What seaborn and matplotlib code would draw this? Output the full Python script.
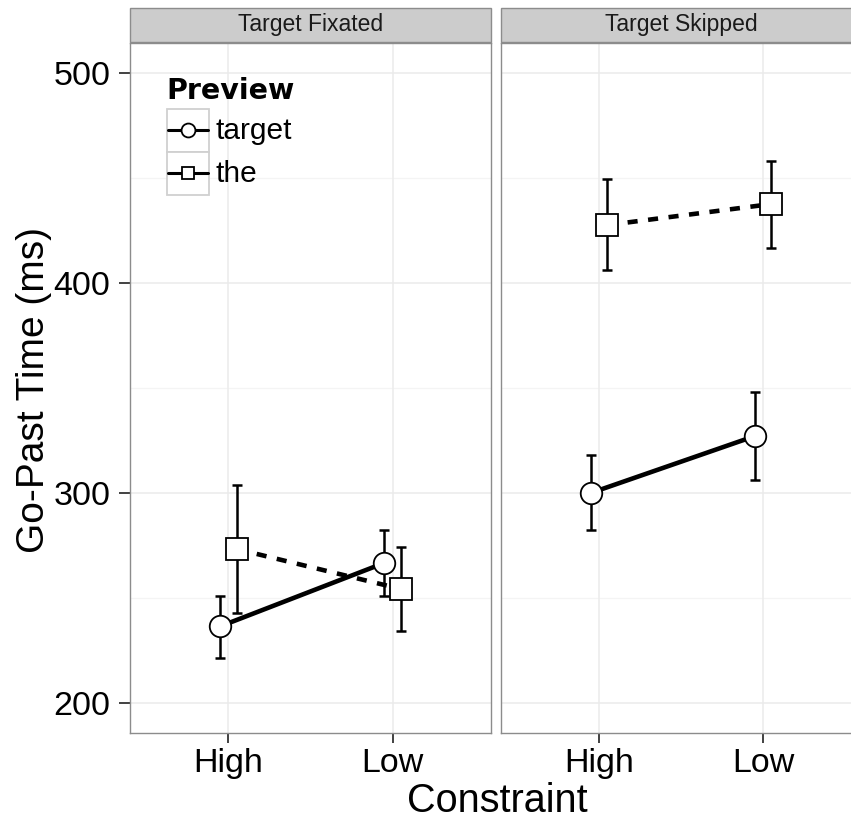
import matplotlib
matplotlib.use("Agg")
import matplotlib.pyplot as plt
from matplotlib.patches import Rectangle
from matplotlib.lines import Line2D
import seaborn as sns
import pandas as pd
import numpy as np

# ---- data ----
panels = ["Target Fixated", "Target Skipped"]
constraints = ["High", "Low"]
previews = ["target", "the"]

fix_target_mean = [236.5, 266.7]
fix_target_lo = [221.5, 251.0]
fix_target_hi = [251.0, 282.4]
fix_the_mean = [273.3, 254.3]
fix_the_lo = [243.0, 234.3]
fix_the_hi = [303.8, 274.3]

skip_target_mean = [300.0, 327.1]
skip_target_lo = [282.4, 306.2]
skip_target_hi = [318.1, 348.1]
skip_the_mean = [427.6, 437.6]
skip_the_lo = [406.2, 416.7]
skip_the_hi = [449.5, 458.1]

y_ticks = [200, 300, 400, 500]

rows = []
series = {
    ("Target Fixated", "target"): (fix_target_mean, fix_target_lo, fix_target_hi),
    ("Target Fixated", "the"): (fix_the_mean, fix_the_lo, fix_the_hi),
    ("Target Skipped", "target"): (skip_target_mean, skip_target_lo, skip_target_hi),
    ("Target Skipped", "the"): (skip_the_mean, skip_the_lo, skip_the_hi),
}
dodge = {"target": -0.05, "the": 0.05}
for (pan, prev), (m, lo, hi) in series.items():
    for i, c in enumerate(constraints):
        rows.append(dict(panel=pan, Preview=prev, Constraint=c,
                         xpos=i + dodge[prev], mean=m[i], lo=lo[i], hi=hi[i]))
df = pd.DataFrame(rows)

# ---- style ----
sns.set_theme(style="white")
plt.rcParams["font.family"] = ["Liberation Sans", "DejaVu Sans"]
plt.rcParams["text.color"] = "black"

W, H = 851, 821
fig = plt.figure(figsize=(W / 100, H / 100), dpi=100)

def px_rect(l, t, r, b):
    return [l / W, 1 - b / H, (r - l) / W, (b - t) / H]

ax1 = fig.add_axes(px_rect(130, 43, 491, 733))
ax2 = fig.add_axes(px_rect(500.5, 43, 861.5, 733))

border = "#8C8C8C"
for ax, pan in zip([ax1, ax2], panels):
    d = df[df.panel == pan]
    ax.set_facecolor("white")
    # grid
    for yv in [250, 350, 450]:
        ax.axhline(yv, color="#F4F4F4", lw=0.9, zorder=0)
    for yv in y_ticks:
        ax.axhline(yv, color="#EBEBEB", lw=1.1, zorder=0)
    for xv in range(len(constraints)):
        ax.axvline(xv, color="#EBEBEB", lw=1.1, zorder=0)
    # error bars
    ax.errorbar(d["xpos"], d["mean"], yerr=[d["mean"] - d["lo"], d["hi"] - d["mean"]],
                fmt="none", ecolor="black", elinewidth=1.8, capsize=3.5,
                capthick=1.8, zorder=2)
    sns.lineplot(data=d, x="xpos", y="mean", style="Preview",
                 style_order=previews,
                 dashes={"target": "", "the": (2.2, 2.3)},
                 markers={"target": "o", "the": "s"},
                 color="black", lw=3.3, ax=ax, legend=False, zorder=3,
                 markerfacecolor="white", markeredgecolor="black",
                 markeredgewidth=1.3, markersize=15.5)
    ax.set_xlim(-0.6, 1.6)
    ax.set_ylim(185.7, 514.3)
    ax.set_xticks(range(len(constraints)))
    ax.set_xticklabels(constraints)
    ax.set_yticks(y_ticks)
    ax.set_xlabel("")
    ax.set_ylabel("")
    for s in ax.spines.values():
        s.set_color(border)
        s.set_linewidth(1.0)
        s.set_zorder(5)
    ax.tick_params(axis="x", which="both", bottom=True, length=7, width=1.3,
                   color="#333333", labelsize=24.5, labelcolor="black", pad=4)
    # strip
    sh = 34 / 690
    ax.add_patch(Rectangle((0, 1.0015), 1, sh, transform=ax.transAxes,
                           facecolor="#CCCCCC", edgecolor=border, lw=1.0,
                           clip_on=False, zorder=5))
    ax.text(0.5, 1.0015 + sh / 2, pan, transform=ax.transAxes, ha="center",
            va="center", fontsize=16.5, color="#1A1A1A", zorder=7, clip_on=False)

ax1.tick_params(axis="y", left=True, length=8, width=1.3, color="#333333",
                labelsize=24.5, labelcolor="black", pad=6)
ax2.tick_params(axis="y", left=False, labelleft=False)

# ---- legend (manual, ggplot-like) ----
def ap(px, py):
    return ((px - 130) / 361, (733 - py) / 690)

tx, ty = ap(166, 91)
ax1.text(tx, ty, "Preview", transform=ax1.transAxes, fontsize=20.5,
         fontweight="bold", family=["DejaVu Sans"], va="center", ha="left",
         zorder=6, color="black")
key_markers = {"target": "o", "the": "s"}
key_ms = {"target": 10, "the": 9}
for i, prev in enumerate(previews):
    top = 109 + i * 43
    x0, y0 = ap(167, top + 43)
    x1, y1 = ap(209, top)
    ax1.add_patch(Rectangle((x0, y0), x1 - x0, y1 - y0, transform=ax1.transAxes,
                            facecolor="white", edgecolor="#D0D0D0", lw=1.3, zorder=6))
    cx, cy = ap(188, top + 21.5)
    ax1.add_line(Line2D([x0 + 0.004, x1 - 0.004], [cy, cy], transform=ax1.transAxes,
                        color="black", lw=2.2, zorder=7))
    ax1.add_line(Line2D([cx], [cy], transform=ax1.transAxes, marker=key_markers[prev],
                        markersize=key_ms[prev], markerfacecolor="white",
                        markeredgecolor="black", markeredgewidth=1.3, lw=0, zorder=8))
    lx, ly = ap(215, top + 22)
    ax1.text(lx, ly, prev, transform=ax1.transAxes, fontsize=21.5, va="center",
             ha="left", zorder=6, color="black")

fig.text(497 / W, 1 - 812 / H, "Constraint", ha="center", va="baseline",
         fontsize=28.5, color="black")
fig.text(34 / W, 1 - 390 / H, "Go-Past Time (ms)", ha="center", va="center",
         rotation=90, fontsize=28, color="black")

fig.savefig("out.png", dpi=100)
